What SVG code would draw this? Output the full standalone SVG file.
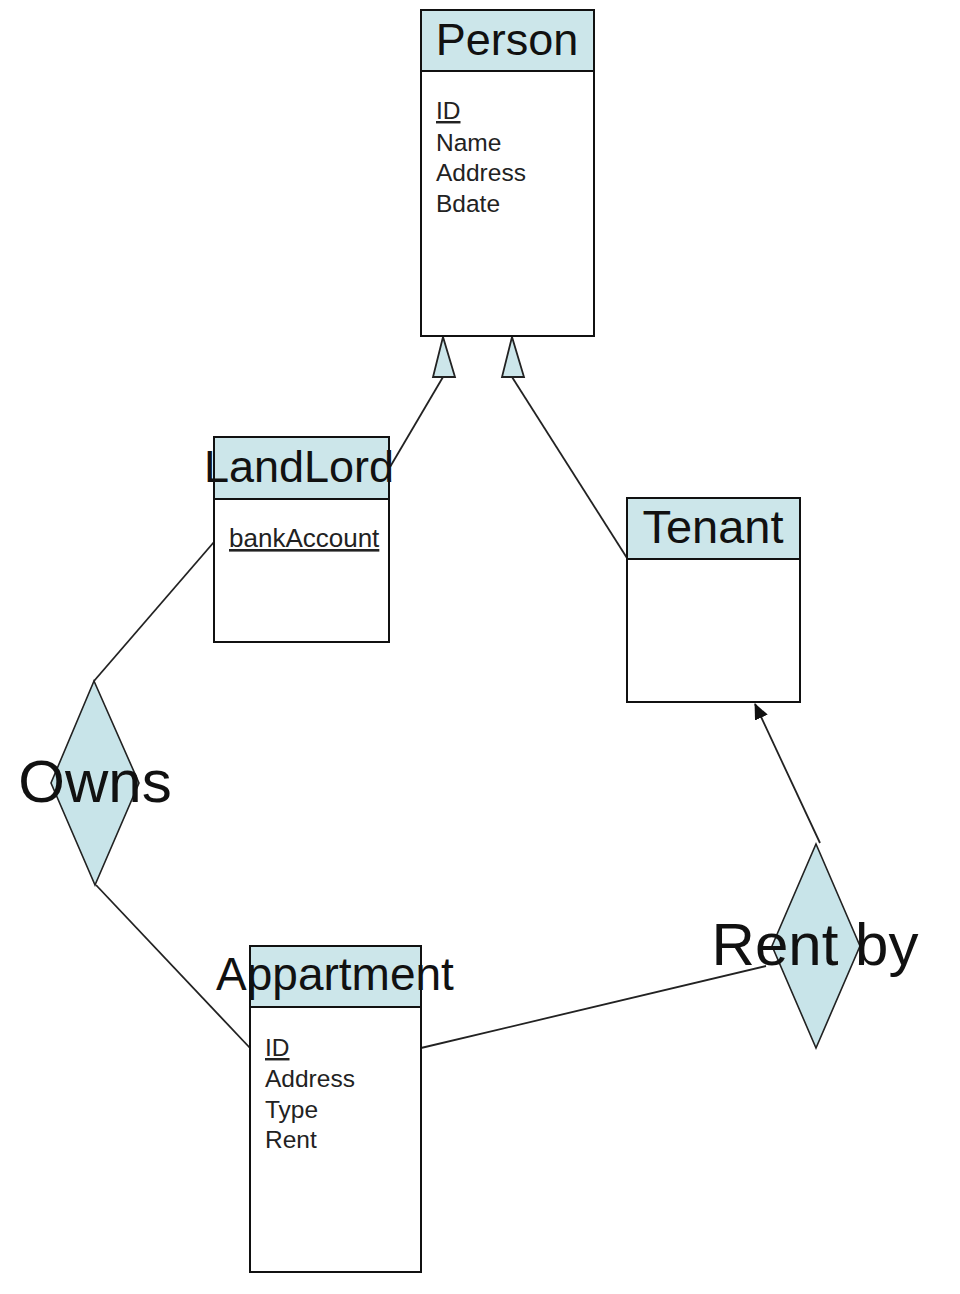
<svg xmlns="http://www.w3.org/2000/svg" width="960" height="1294" viewBox="0 0 960 1294">
<defs>
<style>
.box{fill:#fff;stroke:#111;stroke-width:2}
.hdr{fill:#cce6ea;stroke:#111;stroke-width:2}
.dia{fill:#c8e4e9;stroke:#222;stroke-width:1.6}
.title{font-family:"Liberation Sans",Arial,sans-serif;font-size:46px;fill:#111;text-anchor:middle}
.rel{font-family:"Liberation Sans",Arial,sans-serif;font-size:60px;fill:#111;text-anchor:middle}
.attr{font-family:"Liberation Sans",Arial,sans-serif;font-size:24.5px;fill:#222}
.key{text-decoration:underline}
.ln{stroke:#222;stroke-width:1.8;fill:none}
.gen{fill:#cce6ea;stroke:#222;stroke-width:1.8}
</style>
<marker id="arr" viewBox="0 0 16 14" refX="15" refY="7" markerWidth="16" markerHeight="14" orient="auto" markerUnits="userSpaceOnUse">
<path d="M0,0 L16,7 L0,14 z" fill="#111"/>
</marker>
</defs>
<rect width="960" height="1294" fill="#fff"/>

<g id="connectors">
<line class="ln" x1="443" y1="377" x2="390" y2="467"/>
<line class="ln" x1="512" y1="377" x2="627" y2="558"/>
<polygon class="gen" points="443,337 433,377 455,377"/>
<polygon class="gen" points="512,337 502,377 524,377"/>
<line class="ln" x1="94" y1="681" x2="214" y2="542"/>
<line class="ln" x1="96" y1="885" x2="250" y2="1048"/>
<line class="ln" x1="421" y1="1048" x2="766" y2="966"/>
<line class="ln" x1="820" y1="843" x2="755" y2="704" marker-end="url(#arr)"/>
</g>

<g id="person">
<rect class="box" x="421" y="10" width="173" height="326"/>
<rect class="hdr" x="421" y="10" width="173" height="61"/>
<text class="title" x="507" y="55" style="font-size:45px">Person</text>
<text class="attr key" x="436" y="119">ID</text>
<text class="attr" x="436" y="151">Name</text>
<text class="attr" x="436" y="181">Address</text>
<text class="attr" x="436" y="212">Bdate</text>
</g>

<g id="landlord">
<rect class="box" x="214" y="437" width="175" height="205"/>
<rect class="hdr" x="214" y="437" width="175" height="62"/>
<text class="title" x="299" y="482" style="font-size:45px">LandLord</text>
<text class="attr key" x="229" y="547" style="font-size:26px">bankAccount</text>
</g>

<g id="tenant">
<rect class="box" x="627" y="498" width="173" height="204"/>
<rect class="hdr" x="627" y="498" width="173" height="61"/>
<text class="title" x="713" y="543" style="font-size:47px">Tenant</text>
</g>

<g id="appartment">
<rect class="box" x="250" y="946" width="171" height="326"/>
<rect class="hdr" x="250" y="946" width="171" height="61"/>
<text class="title" x="335" y="990">Appartment</text>
<text class="attr key" x="265" y="1056">ID</text>
<text class="attr" x="265" y="1087">Address</text>
<text class="attr" x="265" y="1118">Type</text>
<text class="attr" x="265" y="1148">Rent</text>
</g>

<g id="owns">
<polygon class="dia" points="94,681 139,783 95,885 51,783"/>
<text class="rel" x="95" y="802">Owns</text>
</g>

<g id="rentby">
<polygon class="dia" points="816,844 860,946 816,1048 772,946"/>
<text class="rel" x="815" y="965">Rent by</text>
</g>
</svg>
